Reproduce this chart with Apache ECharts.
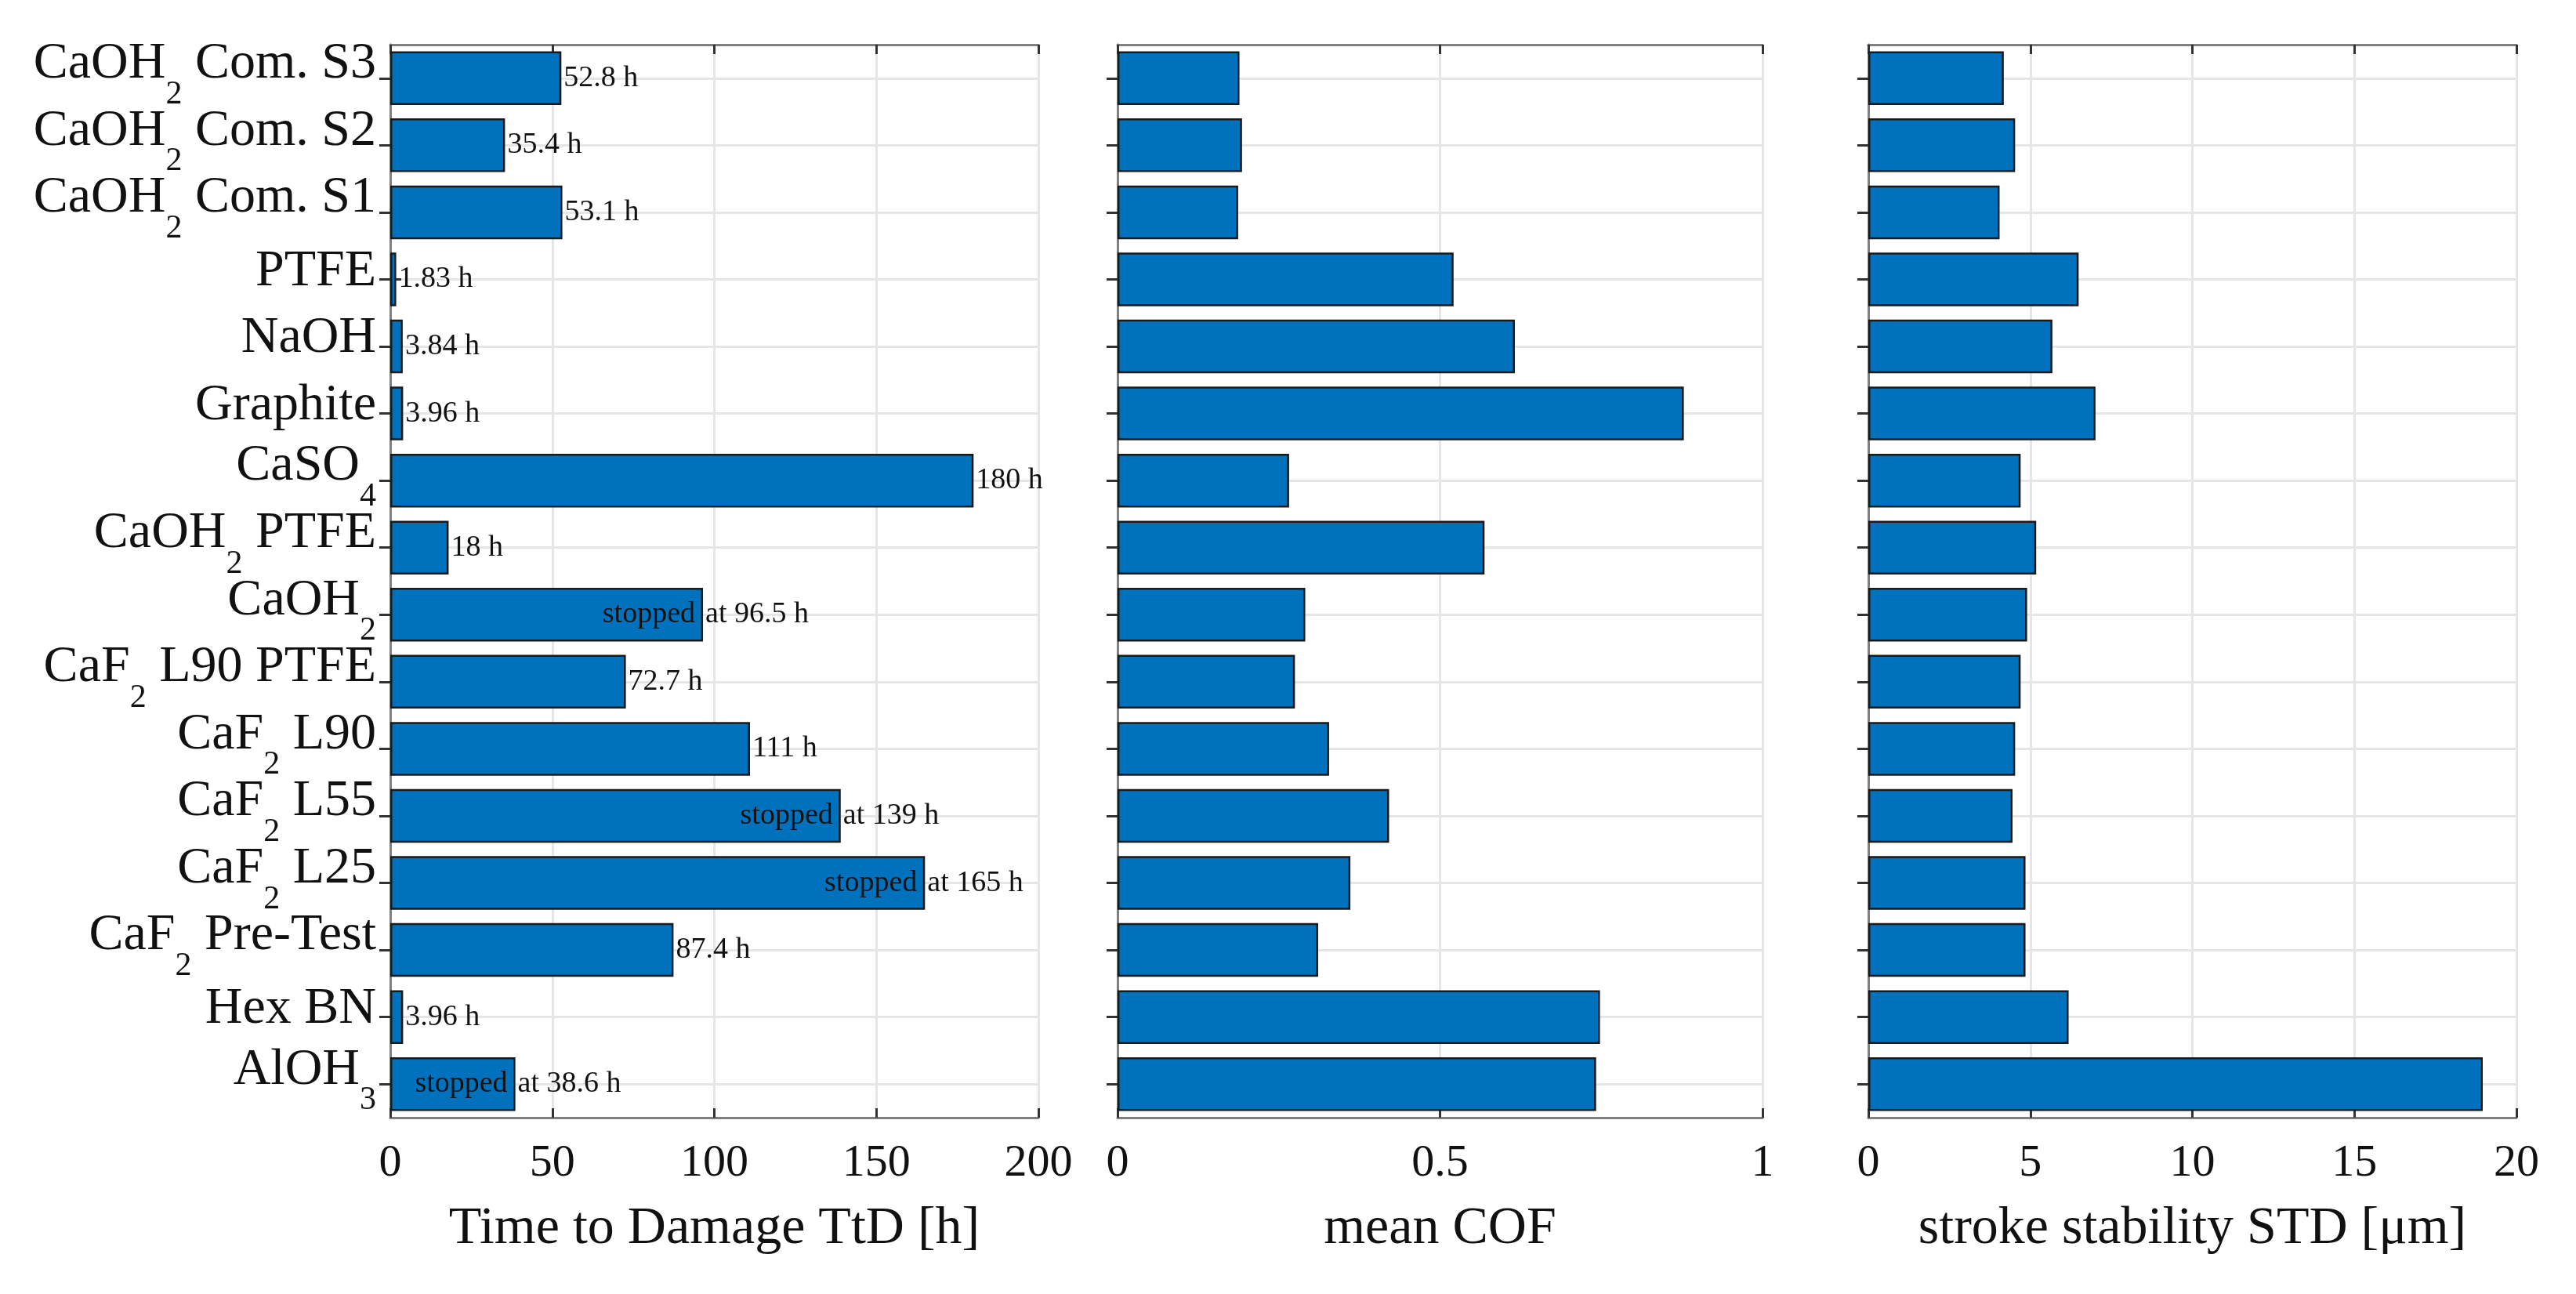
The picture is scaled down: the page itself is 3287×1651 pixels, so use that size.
<!DOCTYPE html>
<html><head><meta charset="utf-8">
<script src="https://cdn.jsdelivr.net/npm/echarts@6/dist/echarts.min.js"></script>
<style>html,body{margin:0;padding:0;background:#fff}#c{width:3287px;height:1651px}</style>
</head><body><div id="c"></div>
<script>
// ---- data (top to bottom as in the figure) ----
const categories = ['CaOH_{2} Com. S3', 'CaOH_{2} Com. S2', 'CaOH_{2} Com. S1', 'PTFE', 'NaOH', 'Graphite', 'CaSO_{4}', 'CaOH_{2} PTFE', 'CaOH_{2}', 'CaF_{2} L90 PTFE', 'CaF_{2} L90', 'CaF_{2} L55', 'CaF_{2} L25', 'CaF_{2} Pre-Test', 'Hex BN', 'AlOH_{3}'];
const ttdHours = [52.8, 35.4, 53.1, 1.83, 3.84, 3.96, 180, 18, 96.5, 72.7, 111, 139, 165, 87.4, 3.96, 38.6];
const ttdStopped = [false, false, false, false, false, false, false, false, true, false, false, true, true, false, false, true];
const meanCOF = [0.189, 0.193, 0.187, 0.521, 0.616, 0.878, 0.266, 0.569, 0.291, 0.275, 0.328, 0.421, 0.361, 0.311, 0.748, 0.742];
const strokeSTD = [4.18, 4.53, 4.05, 6.49, 5.68, 7.01, 4.70, 5.18, 4.90, 4.70, 4.53, 4.45, 4.85, 4.85, 6.18, 18.96];
const ttdTicks = [0, 50, 100, 150, 200];
const cofTicks = [0, 0.5, 1];
const stdTicks = [0, 5, 10, 15, 20];
const axisTitles = ['Time to Damage TtD [h]', 'mean COF', 'stroke stability STD [μm]'];

// ---- styling ----
const FONT = '"Liberation Serif", "DejaVu Serif", serif';
const BAR = '#0072BD';
const BOX = '#808080';
const TICK = '#333333';
const GRIDC = '#e6e6e6';

function catLabel(name) {
  const hasSub = /_\{/.test(name);
  const parts = name.split(/_\{([^}]*)\}/);
  let out = '';
  parts.forEach((p, i) => {
    if (!p) return;
    out += (i % 2 ? '{s|' + p + '}' : '{' + (hasSub ? 'm' : 'n') + '|' + p + '}');
  });
  return out;
}

const grids = [
  { left: 498, top: 57, width: 827, height: 1369 },
  { left: 1426, top: 57, width: 823, height: 1369 },
  { left: 2384, top: 57, width: 827, height: 1369 }
];
const tickSets = [ttdTicks, cofTicks, stdTicks];

const xAxes = [], yAxes = [];
grids.forEach((g, gi) => {
  const t = tickSets[gi];
  const base = {
    type: 'value', gridIndex: gi, min: t[0], max: t[t.length - 1], interval: t[1] - t[0]
  };
  xAxes.push(Object.assign({}, base, {
    position: 'bottom',
    axisLine: { show: true, lineStyle: { color: BOX, width: 3 } },
    axisTick: { show: true, inside: true, length: 12, lineStyle: { color: TICK, width: 3 } },
    splitLine: { show: true, lineStyle: { color: GRIDC, width: 3 } },
    axisLabel: { fontFamily: FONT, fontSize: 58, color: '#111', margin: 30 },
    name: axisTitles[gi], nameLocation: 'middle', nameGap: 108,
    nameTextStyle: { fontFamily: FONT, fontSize: 68, color: '#111' }
  }));
  xAxes.push(Object.assign({}, base, {
    position: 'top',
    axisLine: { show: true, lineStyle: { color: BOX, width: 3 } },
    axisTick: { show: true, inside: true, length: 12, lineStyle: { color: TICK, width: 3 } },
    splitLine: { show: false },
    axisLabel: { show: false }
  }));
  yAxes.push({
    type: 'category', gridIndex: gi, data: categories, inverse: true, position: 'left',
    axisLine: { show: true, lineStyle: { color: BOX, width: 3 } },
    axisTick: { show: true, inside: true, length: 14, alignWithLabel: true, lineStyle: { color: TICK, width: 3 } },
    splitLine: { show: true, alignWithLabel: true, lineStyle: { color: GRIDC, width: 3 } },
    axisLabel: {
      show: gi === 0, interval: 0, margin: 18, color: '#111',
      formatter: catLabel,
      rich: {
        m: { fontFamily: FONT, fontSize: 66, color: '#111', padding: [0, 0, 36, 0] },
        n: { fontFamily: FONT, fontSize: 66, color: '#111', padding: [0, 0, 20, 0] },
        s: { fontFamily: FONT, fontSize: 42, color: '#111', padding: [42, 0, 0, 0] }
      }
    }
  });
  yAxes.push({
    type: 'category', gridIndex: gi, data: categories, inverse: true, position: 'right',
    axisLine: { show: true, lineStyle: { color: BOX, width: 3 } },
    axisTick: { show: true, inside: true, length: 14, alignWithLabel: true, lineStyle: { color: TICK, width: 3 } },
    splitLine: { show: false },
    axisLabel: { show: false }
  });
});

const barItem = { color: BAR, borderColor: '#1a1a1a', borderWidth: 2.5 };
const valLabel = { fontFamily: FONT, fontSize: 38, color: '#111' };

const series = [
  {
    type: 'bar', xAxisIndex: 0, yAxisIndex: 0, data: ttdHours, barWidth: '80%',
    itemStyle: barItem,
    label: Object.assign({ show: true, position: 'right', distance: 3,
      formatter: p => (ttdStopped[p.dataIndex] ? 'at ' : '') + ttdHours[p.dataIndex] + ' h' }, valLabel)
  },
  {
    type: 'bar', xAxisIndex: 0, yAxisIndex: 0, data: ttdHours, barWidth: '80%', barGap: '-100%',
    itemStyle: { color: 'rgba(0,0,0,0)', borderWidth: 0 }, silent: true,
    label: Object.assign({ show: true, position: 'insideRight', distance: 10,
      formatter: p => (ttdStopped[p.dataIndex] ? 'stopped' : '') }, valLabel)
  },
  { type: 'bar', xAxisIndex: 2, yAxisIndex: 2, data: meanCOF, barWidth: '80%', itemStyle: barItem },
  { type: 'bar', xAxisIndex: 4, yAxisIndex: 4, data: strokeSTD, barWidth: '80%', itemStyle: barItem }
];

const chart = echarts.init(document.getElementById('c'), null, { renderer: 'canvas' });
chart.setOption({
  backgroundColor: '#ffffff',
  animation: false,
  grid: grids,
  xAxis: xAxes,
  yAxis: yAxes,
  series: series
});
</script>
</body></html>
